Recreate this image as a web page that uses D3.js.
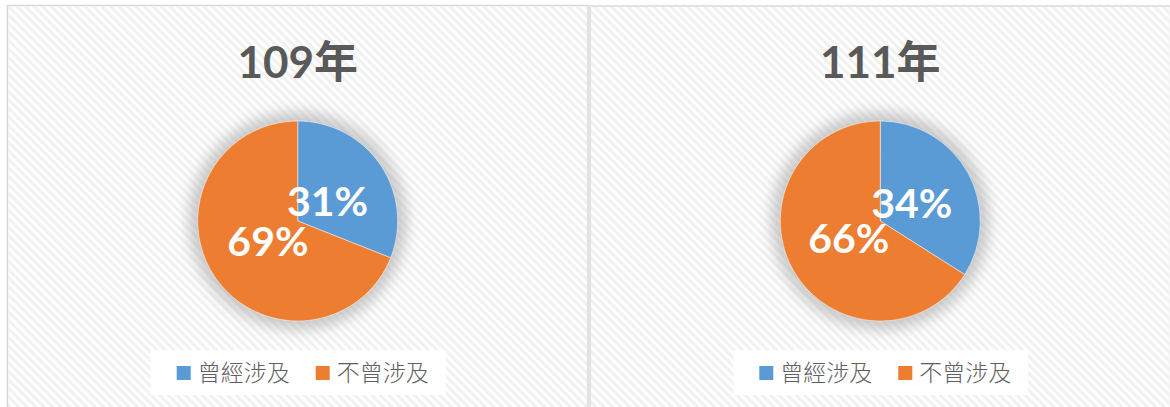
<!DOCTYPE html>
<html>
<head>
<meta charset="utf-8">
<script src="https://cdn.jsdelivr.net/npm/d3@7"></script>
<style>
  html, body { margin: 0; padding: 0; background: #fff; }
  svg { display: block; }
</style>
</head>
<body>
<svg id="chart" width="1170" height="407"></svg>
<script>
const years = ["109年", "111年"];
const categories = ["曾經涉及", "不曾涉及"];
const values109 = [31, 69];
const values111 = [34, 66];
const colors = ["#5B9BD5", "#ED7D31"];

const panelsData = [
	{ title: years[0], values: values109 },
	{ title: years[1], values: values111 }
];

var svg = d3.select("#chart");
let width = 1170;
let height = 407;

// panel placement
let panelX = d3.scaleBand().domain(d3.range(panelsData.length)).range([7, 1171]).paddingInner(0.002);
let radius = 100;
let pieCY = 221;

let defs = svg.append("defs");

// diagonal "\" stripes
defs.append("pattern")
	.attr("id", "stripes")
	.attr("patternUnits", "userSpaceOnUse")
	.attr("width", 6)
	.attr("height", 6)
	.attr("patternTransform", "rotate(-45)")
	.append("rect")
	.attr("width", 3)
	.attr("height", 6)
	.attr("fill", "#f1f1f1");

defs.append("filter")
	.attr("id", "glow")
	.attr("x", "-30%").attr("y", "-30%")
	.attr("width", "160%").attr("height", "160%")
	.append("feGaussianBlur")
	.attr("stdDeviation", 7);

let pie = d3.pie().sort(null).value(d => d);
let arc = d3.arc().innerRadius(0).outerRadius(radius);
let labelArc = d3.arc().innerRadius(72).outerRadius(0);

panelsData.forEach(function (p, i) {
	let x0 = panelX(i);
	let w = panelX.bandwidth();
	let cx = x0 + w / 2;
	let g = svg.append("g");

	g.append("rect")
		.attr("x", x0 + 0.5)
		.attr("y", 5.5 + i * 0.5)
		.attr("width", w - 1)
		.attr("height", height)
		.attr("fill", "#fff")
		.attr("stroke", "#d9d9d9")
		.attr("stroke-width", 1.5);

	g.append("rect")
		.attr("x", x0 + 1.5)
		.attr("y", 6.5 + i * 0.5)
		.attr("width", w - 3)
		.attr("height", height)
		.attr("fill", "url(#stripes)");

	g.append("text")
		.attr("x", cx)
		.attr("y", 78)
		.attr("text-anchor", "middle")
		.attr("fill", "#595959")
		.style("font-family", "Lato, 'Noto Sans CJK TC', sans-serif")
		.style("font-weight", "bold")
		.style("font-size", "44px")
		.text(p.title);

	// soft shadow around pie
	g.append("circle")
		.attr("cx", cx)
		.attr("cy", pieCY)
		.attr("r", radius + 9)
		.attr("fill", "#a8a8a8")
		.attr("opacity", 0.6)
		.attr("filter", "url(#glow)");

	let pg = g.append("g").attr("transform", `translate(${cx},${pieCY})`);
	let arcs = pie(p.values);

	pg.selectAll("path")
		.data(arcs)
		.join("path")
		.attr("d", arc)
		.attr("fill", (d, j) => colors[j])
		.attr("stroke", "#fff")
		.attr("stroke-width", 0.5);

	pg.selectAll("text")
		.data(arcs)
		.join("text")
		.attr("transform", d => `translate(${labelArc.centroid(d)})`)
		.attr("text-anchor", "middle")
		.attr("dy", "0.36em")
		.attr("fill", "#fff")
		.style("font-family", "Lato, 'Open Sans', sans-serif")
		.style("font-weight", "bold")
		.style("font-size", "41px")
		.text(d => d.data + "%");

	// legend
	let lg = g.append("g").attr("transform", `translate(${cx - 147},350)`);
	lg.append("rect")
		.attr("width", 295)
		.attr("height", 45)
		.attr("fill", "#fff")
		.attr("opacity", 0.92);

	let items = lg.selectAll(".item")
		.data(categories)
		.join("g")
		.attr("class", "item")
		.attr("transform", (d, j) => `translate(${26 + j * 139},0)`);

	items.append("rect")
		.attr("y", 16)
		.attr("width", 14)
		.attr("height", 14)
		.attr("fill", (d, j) => colors[j]);

	items.append("text")
		.attr("x", 21)
		.attr("y", 31)
		.attr("fill", "#606060")
		.style("font-family", "'Noto Sans CJK TC', sans-serif")
		.style("font-weight", 300)
		.style("font-size", "23px")
		.text(d => d);
});
</script>
</body>
</html>
